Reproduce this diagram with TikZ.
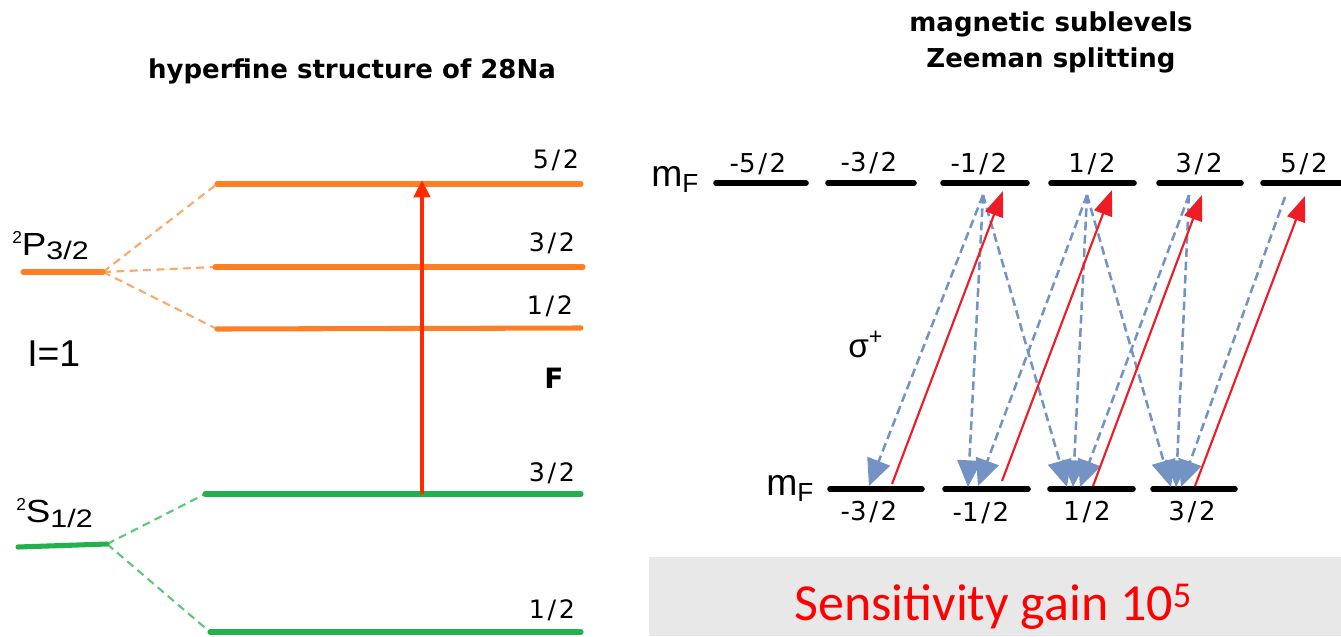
\documentclass[tikz,border=0pt]{standalone}
\usepackage{fontspec}
\setmainfont{Liberation Sans}
\newfontfamily\titlefont{DejaVu Sans}
\newfontfamily\calfont{Carlito}
\usetikzlibrary{arrows.meta}
\definecolor{lvorange}{HTML}{FF7F27}
\definecolor{dashorange}{HTML}{FFA868}
\definecolor{lvgreen}{HTML}{22B14C}
\definecolor{dashgreen}{HTML}{5CC878}
\definecolor{pumpred}{HTML}{FF2A00}
\definecolor{sigred}{HTML}{EE1C24}
\definecolor{decayblue}{HTML}{7293C4}
\definecolor{boxgrey}{HTML}{E8E8E8}
\newcommand{\fr}[2]{#1\kern2pt/\kern2pt#2}
\begin{document}
\begin{tikzpicture}[x=0.75pt,y=-0.75pt,
  orangelevel/.style={lvorange,line width=3.8pt,line cap=round},
  greenlevel/.style={lvgreen,line width=3.8pt,line cap=round},
  blacklevel/.style={black,line width=4.2pt,line cap=round},
  olink/.style={dashorange,line width=1.6pt,dash pattern=on 6pt off 4pt},
  glink/.style={dashgreen,line width=1.6pt,dash pattern=on 6pt off 4pt},
  pump/.style={pumpred,line width=3.2pt,-{Triangle[length=13pt,width=12pt]}},
  sigma/.style={sigred,line width=1.6pt,-{Triangle[length=19pt,width=14pt]}},
  decay/.style={decayblue,line width=1.9pt,dash pattern=on 6.5pt off 3.5pt,-{Triangle[length=20pt,width=18pt]}},
  titletext/.style={font=\titlefont\bfseries\fontsize{19.5pt}{24pt}\selectfont,inner sep=0pt,anchor=base},
  fraclab/.style={font=\titlefont\fontsize{19pt}{22pt}\selectfont,inner sep=0pt,anchor=base},
  fraclabr/.style={font=\titlefont\fontsize{19.5pt}{22pt}\selectfont,inner sep=0pt,anchor=base},
  biglab/.style={font=\fontsize{28pt}{32pt}\selectfont,inner sep=0pt,anchor=base west},
  termlab/.style={font=\fontsize{24pt}{26pt}\selectfont,inner sep=0pt,anchor=base west}
]
\useasboundingbox (0,0) rectangle (1341,636);
% grey box
\fill[boxgrey] (649,557) rectangle (1341,636);

% ---------- left: hyperfine structure ----------
\node[titletext] (titleL) at (352,78) {hyperfine structure of 28Na};

\coordinate (PL) at (23,272);  \coordinate (PR) at (103,272);
\coordinate (F5L) at (217,184); \coordinate (F5R) at (581,184);
\coordinate (F3L) at (215,267); \coordinate (F3R) at (583,267);
\coordinate (F1L) at (217,329); \coordinate (F1R) at (581,328);
\coordinate (SL) at (18,547);  \coordinate (SR) at (107,544);
\coordinate (G3L) at (205,494); \coordinate (G3R) at (581,494);
\coordinate (G1L) at (210,632); \coordinate (G1R) at (581,632);

\draw[olink] (PR) -- (F5L);
\draw[olink] (PR) -- (F3L);
\draw[olink] (PR) -- (F1L);
\draw[glink] (SR) -- (G3L);
\draw[glink] (SR) -- (G1L);

\draw[orangelevel] (PL) -- (PR);
\draw[orangelevel] (F5L) -- (F5R);
\draw[orangelevel] (F3L) -- (F3R);
\draw[orangelevel] (F1L) -- (F1R);
\draw[greenlevel] (SL) -- (SR);
\draw[greenlevel] (G3L) -- (G3R);
\draw[greenlevel] (G1L) -- (G1R);

\coordinate (pumpA) at (422,494);
\coordinate (pumpB) at (422,180);
\draw[pump] (pumpA) -- (pumpB);

\node[fraclab] (lF5) at (556,168) {\fr{5}{2}};
\node[fraclab] (lF3) at (552,251) {\fr{3}{2}};
\node[fraclab] (lF1) at (550,314) {\fr{1}{2}};
\node[fraclab] (lG3) at (552,481) {\fr{3}{2}};
\node[fraclab] (lG1) at (552,618) {\fr{1}{2}};
\node[font=\titlefont\bfseries\fontsize{21pt}{24pt}\selectfont,inner sep=0pt,anchor=base] (Flab) at (554,388) {F};

\node[termlab] (P32) at (12,255)
  {{\fontsize{13pt}{13pt}\selectfont\raisebox{8.5pt}{2}}\scalebox{1.15}[1]{P}{\fontsize{19pt}{19pt}\selectfont\raisebox{-3.5pt}{\scalebox{1.2}[1]{3/2}}}};
\node[termlab] (S12) at (16,522)
  {{\fontsize{13pt}{13pt}\selectfont\raisebox{8.5pt}{2}}\scalebox{1.15}[1]{S}{\fontsize{19pt}{19pt}\selectfont\raisebox{-4pt}{\scalebox{1.2}[1]{1/2}}}};
\node[biglab] (I1) at (27,366) {I=1};

% ---------- right: Zeeman sublevels ----------
\node[titletext] (titleR1) at (1051,31) {magnetic sublevels};
\node[titletext] (titleR2) at (1051,67) {Zeeman splitting};

\node[biglab] (mFtop) at (651,186) {m\textsubscript{F}};
\node[biglab] (mFbot) at (766,495) {m\textsubscript{F}};
\node[font=\fontsize{25pt}{28pt}\selectfont,inner sep=0pt,anchor=base west] (sig) at (848,357) {σ\textsuperscript{+}};

% top sublevels
\coordinate (Tm5L) at (716,183);  \coordinate (Tm5R) at (806,183);
\coordinate (Tm3L) at (828,183);  \coordinate (Tm3R) at (914,183);
\coordinate (Tm1L) at (943,183);  \coordinate (Tm1R) at (1027,183);
\coordinate (Tp1L) at (1051,183); \coordinate (Tp1R) at (1134,183);
\coordinate (Tp3L) at (1159,183); \coordinate (Tp3R) at (1241,183);
\coordinate (Tp5L) at (1263,183); \coordinate (Tp5R) at (1348,183);
% bottom sublevels
\coordinate (Bm3L) at (830,489);  \coordinate (Bm3R) at (922,489);
\coordinate (Bm1L) at (945,489);  \coordinate (Bm1R) at (1028,489);
\coordinate (Bp1L) at (1050,489); \coordinate (Bp1R) at (1133,489);
\coordinate (Bp3L) at (1153,489); \coordinate (Bp3R) at (1235,489);

\foreach \a/\b in {Tm5L/Tm5R,Tm3L/Tm3R,Tm1L/Tm1R,Tp1L/Tp1R,Tp3L/Tp3R,Tp5L/Tp5R,
                   Bm3L/Bm3R,Bm1L/Bm1R,Bp1L/Bp1R,Bp3L/Bp3R}
  \draw[blacklevel] (\a) -- (\b);

\node[fraclabr] (tm5) at (758,172) {-\fr{5}{2}};
\node[fraclabr] (tm3) at (869,171) {-\fr{3}{2}};
\node[fraclabr] (tm1) at (979,172) {-\fr{1}{2}};
\node[fraclabr] (tp1) at (1092,172) {\fr{1}{2}};
\node[fraclabr] (tp3) at (1199,172) {\fr{3}{2}};
\node[fraclabr] (tp5) at (1304,172) {\fr{5}{2}};
\node[fraclabr] (bm3) at (869,520) {-\fr{3}{2}};
\node[fraclabr] (bm1) at (981,521) {-\fr{1}{2}};
\node[fraclabr] (bp1) at (1087,520) {\fr{1}{2}};
\node[fraclabr] (bp3) at (1192,520) {\fr{3}{2}};

% decay starts (top) and ends (bottom)
\coordinate (dm1) at (983,195);
\coordinate (dp1) at (1087,195);
\coordinate (dp3) at (1189,195);
\coordinate (dp5) at (1285,197);
\coordinate (em3a) at (869,486);
\coordinate (em1a) at (968,487);
\coordinate (em1b) at (978,486);
\coordinate (ep1a) at (1067,487);
\coordinate (ep1b) at (1073,487);
\coordinate (ep1c) at (1080,487);
\coordinate (ep3a) at (1171,487);
\coordinate (ep3b) at (1176,487);
\coordinate (ep3c) at (1181,487);

\draw[decay] (dm1) -- (em3a);
\draw[decay] (dm1) -- (em1a);
\draw[decay] (dm1) -- (ep1a);
\draw[decay] (dp1) -- (em1b);
\draw[decay] (dp1) -- (ep1b);
\draw[decay] (dp1) -- (ep3a);
\draw[decay] (dp3) -- (ep1c);
\draw[decay] (dp3) -- (ep3b);
\draw[decay] (dp5) -- (ep3c);

% sigma+ excitations
\coordinate (sa1) at (892,484);  \coordinate (sb1) at (1003,191);
\coordinate (sa2) at (1002,481); \coordinate (sb2) at (1112,190);
\coordinate (sa3) at (1093,486); \coordinate (sb3) at (1202,195);
\coordinate (sa4) at (1195,486); \coordinate (sb4) at (1305,196);
\draw[sigma] (sa1) -- (sb1);
\draw[sigma] (sa2) -- (sb2);
\draw[sigma] (sa3) -- (sb3);
\draw[sigma] (sa4) -- (sb4);

\node[font=\calfont\fontsize{39pt}{44pt}\selectfont,text=red,inner sep=0pt,anchor=base west] (gain) at (794,620) {Sensitivity gain 10\textsuperscript{5}};
\end{tikzpicture}
\end{document}
